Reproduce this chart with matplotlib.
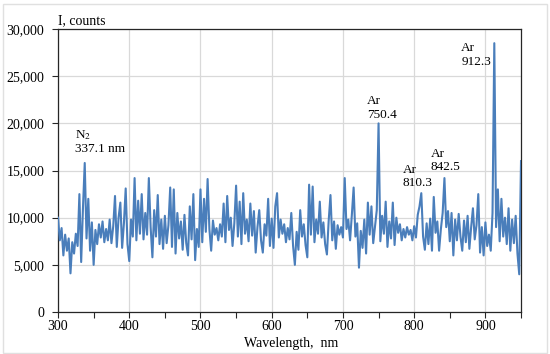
import numpy as np
import matplotlib
matplotlib.use("Agg")
from matplotlib import pyplot as plt
from matplotlib.patches import Rectangle

plt.rcParams['font.family'] = ['Liberation Serif', 'DejaVu Serif']
plt.rcParams['mathtext.fontset'] = 'stix'

# wavelength grid, nm (2.5 nm step)
wavelength = np.arange(300, 950.1, 2.5)

# intensity, counts (50 nm per row)
counts = [
    10000, 7600, 8900, 6000, 8200, 6500, 7800, 4100, 7400, 6200,
    8300, 7000, 12500, 5300, 11000, 15800, 7800, 12000, 6500, 9500,
    5000, 8700, 7200, 9300, 7900, 9600, 7400, 8800, 7600, 9800,
    7300, 9100, 12300, 6900, 10000, 11600, 6800, 9400, 13100, 7200,
    5400, 9800, 8000, 14200, 7600, 11800, 8300, 12500, 7700, 10500,
    8200, 14200, 9000, 5800, 10800, 8000, 12400, 7200, 9800, 6700,
    10200, 7300, 9200, 13200, 6900, 13000, 6200, 10500, 7800, 9600,
    6600, 10300, 7300, 6000, 11200, 7700, 12500, 5500, 8800, 6900,
    13000, 7400, 12000, 8500, 14100, 8800, 6500, 9700, 8200, 8900,
    7600, 9300, 8000, 11500, 7400, 12300, 8700, 10000, 7000, 9400,
    13400, 8000, 11700, 7200, 12600, 8300, 9800, 7500, 11500, 8100,
    10700, 6300, 9000, 10800, 7600, 6300, 9300, 8100, 12000, 7000,
    9900, 6800, 11200, 12600, 7900, 9800, 8300, 9300, 7400, 8900,
    7700, 10500, 7000, 5000, 8500, 6600, 10800, 8000, 9300, 7100,
    5800, 13500, 8200, 13300, 7400, 9800, 8300, 11700, 7900, 9500,
    7200, 6100, 9700, 12400, 7600, 9600, 6700, 9200, 8200, 9000,
    7900, 14200, 8800, 9800, 7600, 10300, 13200, 8000, 9400, 4700,
    8600, 6800, 9800, 6200, 11600, 8200, 11200, 7300, 9000, 10800,
    20000, 7500, 10200, 8300, 11700, 6900, 9600, 7800, 11600, 7100,
    10000, 8400, 9300, 7600, 8800, 7900, 9000, 8200, 8700, 7600,
    9100, 7900, 10300, 11200, 12600, 8000, 6600, 9400, 7200, 9900,
    6500, 12200, 8400, 9600, 6500, 8800, 10500, 14200, 9000, 10700,
    7500, 10500, 6000, 9800, 7600, 10400, 8000, 6500, 9700, 7400,
    10200, 6700, 9000, 11000, 7700, 9200, 12500, 6300, 9000, 6000,
    9500, 7000, 8200, 6500, 10500, 28500, 9000, 13000, 7500, 12000,
    8000, 10000, 7200, 11000, 6500, 9800, 7300, 10200, 6200, 4000,
    16000,
]

# peak labels: (text, x of left edge, y of bottom edge)
labels = ["N$_2$\n337.1 nm", "Ar\n750.4", "Ar\n810.3", "Ar\n842.5", "Ar\n912.3"]
label_x = [324, 734, 784, 823, 866]
label_y = [16600, 20300, 13000, 14700, 25900]

fig = plt.figure(figsize=(5.5, 3.54), dpi=100)
ax = fig.add_axes([0.1055, 0.1186, 0.8418, 0.7994])

ax.plot(wavelength, counts, color='#4a7ebb', lw=1.5, zorder=3)

ax.set_xlim(300, 950)
ax.set_ylim(0, 30000)
ax.set_xticks(np.arange(300, 901, 100))
ax.set_xticks(np.arange(350, 951, 100), minor=True)
ax.set_yticks(np.arange(0, 30001, 5000))
ax.set_yticklabels([f"{v:,}" for v in range(0, 30001, 5000)])
ax.grid(True, which='major', color='#d9d9d9', lw=0.9, zorder=0)
ax.tick_params(axis='both', which='both', direction='out', length=4,
               width=0.8, color='#262626', labelsize=10, labelcolor='black')
ax.tick_params(axis='y', pad=6)
ax.tick_params(axis='x', pad=2)
ax.tick_params(axis='y', which='minor', left=False)
for s in ax.spines.values():
    s.set_color('#262626')
    s.set_linewidth(0.9)

for t, x, y in zip(labels, label_x, label_y):
    ax.text(x, y, t, fontsize=9.5, ha='left', va='bottom', linespacing=1.2)

fig.text(0.1055, 0.942, "I, counts", fontsize=10, ha='left', va='center')
fig.text(0.529, 0.03, "Wavelength,  nm", fontsize=10, ha='center', va='center')

fig.add_artist(Rectangle((0.006, 0.004), 0.988, 0.985, transform=fig.transFigure,
                         fill=False, edgecolor='#e0e0e0', lw=1.0))

fig.savefig("out.png", dpi=100)
